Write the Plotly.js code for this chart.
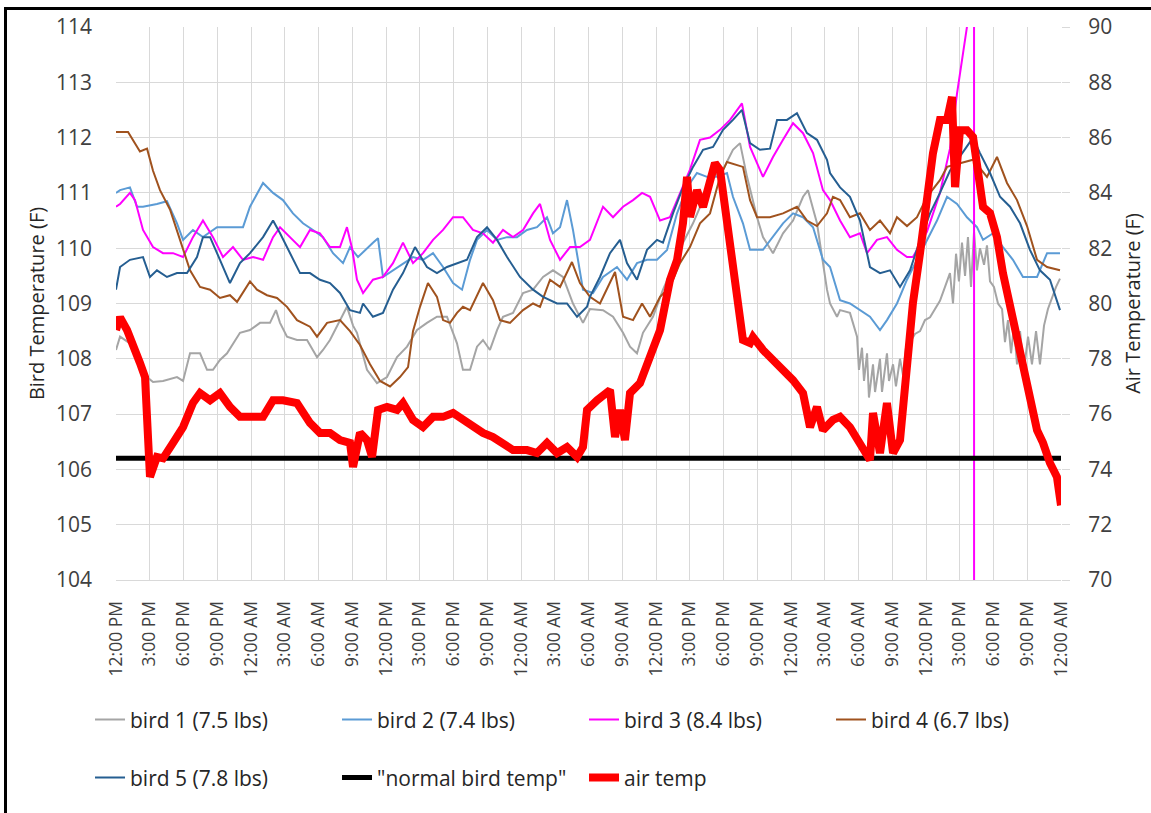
<!DOCTYPE html>
<html>
<head>
<meta charset="utf-8">
<script src="https://cdn.plot.ly/plotly-3.0.1.min.js"></script>
<style>
  html, body { margin: 0; padding: 0; background: #fff; }
  #wrap { position: relative; width: 1151px; height: 813px; overflow: hidden; }
  #chart { position: absolute; left: 0; top: 0; width: 1151px; height: 813px; }
  #frame { position: absolute; left: 4px; top: 7px; width: 1160px; height: 820px;
           border-left: 3px solid #000; border-top: 3px solid #000; pointer-events: none; }
</style>
</head>
<body>
<div id="wrap"><div id="chart"></div><div id="frame"></div></div>
<script>
// ---- tick labels (every 3 hours from 12:00 PM, 84 hours total) ----
const tickLabels = [
  "12:00 PM","3:00 PM","6:00 PM","9:00 PM","12:00 AM","3:00 AM","6:00 AM","9:00 AM",
  "12:00 PM","3:00 PM","6:00 PM","9:00 PM","12:00 AM","3:00 AM","6:00 AM","9:00 AM",
  "12:00 PM","3:00 PM","6:00 PM","9:00 PM","12:00 AM","3:00 AM","6:00 AM","9:00 AM",
  "12:00 PM","3:00 PM","6:00 PM","9:00 PM","12:00 AM"
];
const tickHours = tickLabels.map((_, i) => i * 3);

// ---- bird 1 (7.5 lbs) ----
const bird1Hours = [0,0.36,1.24,2.13,2.76,3.29,4.18,5.42,5.96,6.58,7.47,8.09,8.62,9.24,9.87,10.4,11.02,11.91,12.8,13.69,14.22,14.58,15.2,16.09,16.98,17.87,18.4,19.02,19.91,20.53,21.07,21.42,22.31,23.2,24.09,24.98,25.87,26.76,27.64,28.53,29.42,30.31,30.84,31.47,32.09,32.62,33.24,33.87,34.4,35.29,36.18,37.07,37.96,38.84,39.73,40.62,41.51,42.13,43.29,44.18,45.07,45.69,46.31,46.84,47.73,48.62,49.51,50.4,51.29,52.18,53.07,53.96,54.84,55.47,56.09,56.98,57.51,58.4,59.29,60.18,61.07,61.51,62.31,63.2,63.47,64.09,64.36,65.24,65.87,66.04,66.31,66.49,66.76,66.93,67.29,67.47,67.91,68.09,68.53,68.71,69.07,69.33,69.69,69.96,70.22,70.58,71.02,71.47,71.91,72.36,72.8,73.24,73.69,74.13,74.4,74.67,74.93,75.2,75.47,75.73,76.0,76.27,76.53,76.8,77.16,77.42,77.69,78.04,78.4,78.76,79.02,79.29,79.56,79.82,80.09,80.36,80.71,81.07,81.42,81.78,82.13,82.49,82.84,83.2,83.56,83.91];
const bird1Temp  = [108.16,108.4,108.28,108.03,107.67,107.58,107.6,107.67,107.6,108.1,108.1,107.8,107.8,107.98,108.1,108.28,108.47,108.52,108.65,108.65,108.88,108.65,108.4,108.34,108.34,108.03,108.16,108.34,108.7,108.94,108.6,108.47,107.8,107.56,107.67,108.03,108.22,108.52,108.65,108.76,108.76,108.28,107.8,107.8,108.22,108.34,108.16,108.52,108.76,108.83,109.19,109.25,109.48,109.6,109.48,109.0,108.65,108.9,108.88,108.76,108.47,108.22,108.1,108.47,108.76,109.25,109.66,110.1,110.45,110.87,111.29,111.42,111.78,111.9,111.29,110.56,110.2,109.91,110.27,110.5,110.93,111.05,110.45,109.25,109.0,108.76,108.88,108.83,108.4,107.8,108.2,107.6,108.1,107.3,107.9,107.4,108.0,107.4,108.1,107.6,107.9,107.5,108.0,107.7,108.2,108.3,108.45,108.5,108.7,108.75,108.9,109.05,109.3,109.55,109.0,109.9,109.4,110.1,109.5,110.2,109.3,110.3,109.6,110.0,109.7,110.05,109.4,109.3,109.0,108.9,108.3,108.7,108.1,108.6,107.9,108.5,107.8,108.4,107.9,108.5,107.9,108.6,108.9,109.1,109.3,109.45];

// ---- bird 2 (7.4 lbs) ----
const bird2Hours = [0,0.36,1.24,1.87,2.4,3.64,4.53,5.42,5.96,6.84,7.73,8.98,10.13,11.29,11.91,13.07,13.96,14.84,15.73,16.62,17.51,18.4,19.29,20.18,20.8,21.51,22.84,23.29,23.73,24.62,25.51,26.4,27.29,28.18,29.07,29.96,30.76,31.47,32.09,32.98,33.87,34.76,35.64,36.53,37.42,38.31,38.84,39.47,40.09,40.62,41.51,42.4,43.29,44.53,45.42,46.31,47.2,48.09,48.98,49.87,50.76,51.64,52.53,53.42,54.31,54.84,55.73,56.36,57.51,58.4,59.29,60.18,61.07,61.96,62.84,63.47,64.36,65.24,66.13,67.02,67.91,68.53,69.42,70.31,71.2,72.09,72.98,73.87,74.76,75.64,76.53,77.07,77.96,78.84,79.73,80.62,81.87,82.76,83.91];
const bird2Temp  = [111.0,111.05,111.1,110.75,110.75,110.8,110.85,110.45,110.15,110.33,110.2,110.38,110.38,110.38,110.75,111.18,111.0,110.87,110.63,110.45,110.33,110.2,109.91,109.73,110.02,109.84,110.1,110.18,109.48,109.6,109.73,109.84,109.79,109.91,109.66,109.37,109.25,109.79,110.15,110.33,110.15,110.2,110.2,110.33,110.38,110.56,110.27,110.38,110.87,110.33,109.25,109.19,109.48,109.66,109.43,109.73,109.79,109.79,109.97,110.63,111.1,111.36,111.29,111.29,111.36,110.93,110.45,109.97,109.97,110.2,110.45,110.63,110.56,110.38,109.79,109.66,109.06,109.0,108.88,108.76,108.52,108.7,109.0,109.43,109.79,110.15,110.5,110.93,110.8,110.56,110.38,110.15,110.27,110.02,109.79,109.48,109.48,109.91,109.91];

// ---- bird 3 (8.4 lbs) ----
const bird3Hours = [0,0.36,1.24,1.69,2.4,3.29,4.18,5.07,5.96,6.84,7.73,8.62,9.51,10.4,11.29,12.18,13.07,13.96,14.58,15.47,16.36,17.24,18.13,19.02,19.91,20.53,20.98,21.42,21.96,22.84,23.73,24.62,25.51,26.4,27.29,28.18,29.07,29.96,30.84,31.73,32.62,33.51,34.4,35.29,36.18,37.07,37.69,38.58,39.47,40.36,41.24,42.13,43.29,44.18,45.07,45.96,46.76,47.47,48.36,49.24,50.13,51.02,51.91,52.8,53.69,54.58,55.64,56.36,57.51,58.4,59.29,60.18,61.07,61.96,62.84,63.47,64.36,65.24,66.13,66.76,67.64,68.53,69.42,70.31,70.84,72.09,73.24,74.13,74.76,75.29,75.64,76.27,76.28];
const bird3Temp  = [110.75,110.8,111.0,110.87,110.33,110.02,109.91,109.91,109.84,110.2,110.5,110.2,109.84,110.02,109.79,109.84,109.79,110.2,110.38,110.2,110.02,110.33,110.27,110.02,110.02,110.38,110.0,109.43,109.19,109.43,109.48,109.73,110.1,109.73,109.91,110.15,110.33,110.56,110.56,110.33,110.27,110.1,110.33,110.2,110.33,110.63,110.8,110.15,109.79,110.02,110.02,110.15,110.75,110.56,110.75,110.87,111.0,110.93,110.5,110.56,111.0,111.42,111.96,112.0,112.14,112.32,112.62,111.83,111.29,111.65,111.96,112.26,112.08,111.72,111.05,110.87,110.5,110.2,110.27,109.91,110.15,110.2,109.97,109.84,109.84,110.3,111.0,111.8,112.8,113.5,114.0,115.5,80];

// ---- bird 4 (6.7 lbs) ----
const bird4Hours = [0,1.07,2.13,2.76,3.29,3.91,4.8,5.69,6.58,7.47,8.36,9.24,10.13,10.76,11.91,12.53,13.42,14.31,15.2,16.09,17.24,17.87,18.76,19.91,20.8,21.69,22.58,23.47,24.36,25.24,25.96,26.4,27.02,27.73,28.53,29.07,29.69,30.31,30.84,31.47,32.62,33.51,34.13,35.02,36.18,37.07,37.69,38.58,39.47,40.53,41.24,42.13,43.02,44.36,45.07,45.96,46.76,47.47,48.36,49.24,50.13,51.02,51.91,52.8,53.69,54.31,55.2,55.73,56.36,56.98,58.13,59.29,60.53,61.42,62.31,63.2,63.73,64.36,65.24,66.13,67.02,67.91,68.8,69.42,70.31,71.2,72.09,73.24,73.87,76.18,77.42,78.31,79.2,80.09,80.98,81.87,82.76,83.91];
const bird4Temp  = [112.1,112.1,111.75,111.8,111.4,111.05,110.7,110.15,109.6,109.3,109.25,109.1,109.15,109.03,109.4,109.25,109.15,109.1,108.94,108.7,108.58,108.4,108.65,108.7,108.5,108.25,107.9,107.6,107.5,107.67,107.85,108.5,108.94,109.37,109.12,108.7,108.65,108.83,108.94,108.88,109.37,109.06,108.7,108.65,108.88,109.0,108.94,109.43,109.3,109.75,109.37,109.12,109.0,109.57,108.76,108.7,109.0,108.76,109.12,109.3,109.73,110.02,110.45,110.63,111.29,111.56,111.5,111.47,110.87,110.56,110.56,110.63,110.75,110.5,110.4,110.63,110.93,110.87,110.56,110.63,110.33,110.5,110.27,110.56,110.4,110.56,110.93,111.23,111.47,111.6,111.29,111.65,111.18,110.87,110.4,109.79,109.66,109.6];

// ---- bird 5 (7.8 lbs) ----
const bird5Hours = [0,0.36,1.24,2.4,3.02,3.64,4.53,5.42,6.31,7.2,7.73,8.36,9.24,10.13,11.02,11.91,13.07,13.96,14.58,15.47,16.36,17.24,18.13,19.02,19.91,20.8,21.69,21.96,22.84,23.73,24.62,25.51,26.58,27.64,28.53,29.42,30.31,31.2,32.09,32.98,33.87,34.76,35.91,37.07,37.96,39.2,40.09,40.98,41.87,42.13,43.02,43.91,44.8,45.42,46.31,47.2,48.09,48.62,49.51,50.4,51.29,52.18,53.07,53.96,54.84,55.64,56.36,57.24,58.13,58.76,59.64,60.53,61.42,62.31,63.2,63.47,64.36,65.24,66.13,67.02,67.91,68.8,69.69,70.58,71.47,72.36,73.24,74.13,75.5,76.18,76.8,77.69,78.58,79.47,80.36,81.24,82.13,83.02,83.91];
const bird5Temp  = [109.25,109.66,109.79,109.84,109.48,109.6,109.48,109.55,109.55,109.84,110.2,110.2,109.79,109.37,109.73,109.91,110.2,110.5,110.27,109.91,109.55,109.55,109.43,109.37,109.19,108.88,108.83,109.0,108.76,108.83,109.25,109.55,110.02,109.66,109.55,109.66,109.73,109.79,110.2,110.38,110.15,109.84,109.48,109.25,109.12,109.0,109.0,108.76,108.94,109.12,109.48,109.91,110.15,109.73,109.43,109.97,110.15,110.1,110.63,111.1,111.47,111.78,111.83,112.14,112.32,112.5,111.9,111.78,111.8,112.32,112.32,112.44,112.08,111.96,111.6,111.36,111.1,110.93,110.5,109.66,109.55,109.6,109.3,109.6,110.15,110.63,111.0,111.4,111.8,112.0,111.72,111.36,110.93,110.75,110.45,109.97,109.6,109.43,108.88];

// ---- "normal bird temp" ----
const normalHours = [0, 84];
const normalTemp  = [106.2, 106.2];

// ---- air temp (right axis) ----
const airHours = [0,0.36,0.98,1.51,2.13,2.58,2.84,3.02,3.64,4.18,5.07,5.96,6.84,7.47,8.36,9.24,10.13,11.02,11.91,13.07,13.96,14.84,16.09,17.24,18.13,19.02,19.91,20.8,21.07,21.69,22.31,22.76,23.29,24.09,24.98,25.51,26.4,27.29,28.18,29.07,29.96,30.84,31.73,32.62,33.51,34.4,35.29,36.53,37.42,38.31,39.2,40.09,40.98,41.51,41.87,42.76,43.91,44.36,44.8,45.24,45.69,46.58,47.47,48.36,49.24,49.87,50.4,50.76,51.02,51.64,52.18,52.8,53.24,53.69,54.13,54.58,55.2,55.73,56.36,56.62,57.51,58.4,59.29,60.18,61.07,61.69,62.31,62.84,63.73,64.36,65.24,66.13,67.02,67.29,67.91,68.53,69.07,69.69,70.31,70.84,71.47,72.09,72.62,73.24,73.87,74.31,74.58,75.02,75.64,76.18,76.62,77.07,77.69,78.31,78.84,79.47,80.09,80.62,81.24,81.87,82.4,83.02,83.64,84];
const airTemp  = [79.04,79.5,79.04,78.57,77.85,77.34,74.45,73.73,74.45,74.4,74.96,75.53,76.4,76.76,76.5,76.76,76.26,75.9,75.9,75.9,76.5,76.5,76.4,75.68,75.32,75.32,75.06,74.96,74.09,75.32,75.06,74.45,76.15,76.26,76.15,76.4,75.79,75.53,75.9,75.9,76.04,75.79,75.53,75.32,75.17,74.96,74.7,74.7,74.59,74.96,74.59,74.81,74.45,74.81,76.15,76.5,76.87,75.17,76.15,75.06,76.76,77.12,78.06,79.04,80.85,81.57,82.91,84.58,83.13,84.1,83.49,84.58,85.08,84.83,83.49,82.3,80.74,78.68,78.57,78.79,78.32,77.96,77.6,77.23,76.76,75.53,76.26,75.42,75.79,75.9,75.53,74.96,74.34,76.04,74.59,76.4,74.59,75.06,77.6,80.02,81.83,83.85,85.44,86.64,86.64,87.47,84.21,86.27,86.27,86.02,84.83,83.49,83.27,82.4,81.1,79.87,78.68,77.7,76.5,75.42,74.96,74.23,73.73,72.7];

const FONT = "Open Sans, sans-serif";
const TXT = "#404040";

function line(name, x, y, color, width, legend, yaxis) {
  return { type: "scatter", mode: "lines", name, x, y, yaxis: yaxis || "y",
           legend: legend || "legend", line: { color, width }, hoverinfo: "skip" };
}

const data = [
  line("bird 1 (7.5 lbs)", bird1Hours, bird1Temp, "#A5A5A5", 2),
  line("bird 2 (7.4 lbs)", bird2Hours, bird2Temp, "#5B9BD5", 2),
  line("bird 3 (8.4 lbs)", bird3Hours, bird3Temp, "#FF00FF", 2),
  line("bird 4 (6.7 lbs)", bird4Hours, bird4Temp, "#A0521E", 2),
  line("bird 5 (7.8 lbs)", bird5Hours, bird5Temp, "#255E91", 2, "legend2"),
  line("\"normal bird temp\"", normalHours, normalTemp, "#000000", 5, "legend2"),
  line("air temp", airHours, airTemp, "#FF0000", 8, "legend2", "y2")
];

const legendCommon = {
  orientation: "h", xanchor: "left", yanchor: "middle",
  entrywidth: 202, entrywidthmode: "pixels", itemwidth: 30,
  font: { family: FONT, size: 21, color: "#262626" }, bgcolor: "rgba(0,0,0,0)"
};

const layout = {
  width: 1151, height: 813,
  margin: { l: 116, r: 90, t: 27, b: 233 },
  paper_bgcolor: "#fff", plot_bgcolor: "#fff",
  font: { family: FONT, color: TXT },
  showlegend: true,
  xaxis: {
    range: [0, 84], tickmode: "array", tickvals: tickHours, ticktext: tickLabels,
    tickangle: -90, tickfont: { family: FONT, size: 17.5, color: TXT },
    showgrid: true, gridcolor: "#D9D9D9", gridwidth: 1,
    showline: true, linecolor: "#D9D9D9", zeroline: false, ticks: "",
    ticklabelstandoff: 13, fixedrange: true
  },
  yaxis: {
    range: [104, 114], dtick: 1, tick0: 104,
    tickfont: { family: FONT, size: 21, color: TXT },
    showgrid: true, gridcolor: "#D9D9D9", gridwidth: 1, zeroline: false,
    showline: false, ticks: "", ticklabelstandoff: 23,
    title: { text: "Bird Temperature (F)", font: { family: FONT, size: 20, color: "#262626" }, standoff: 5 }
  },
  yaxis2: {
    range: [70, 90], dtick: 2, tick0: 70, overlaying: "y", side: "right",
    tickfont: { family: FONT, size: 21, color: TXT },
    showgrid: false, zeroline: false, showline: false,
    ticks: "outside", ticklen: 8, tickcolor: "#D9D9D9", ticklabelstandoff: 14,
    title: { text: "Air Temperature (F)", font: { family: FONT, size: 20, color: "#262626" }, standoff: 14 }
  },
  legend: Object.assign({ x: -0.0275, y: -0.253 }, legendCommon),
  legend2: Object.assign({ x: -0.0275, y: -0.358 }, legendCommon)
};

Plotly.newPlot("chart", data, layout, { displayModeBar: false, staticPlot: true });
</script>
</body>
</html>
